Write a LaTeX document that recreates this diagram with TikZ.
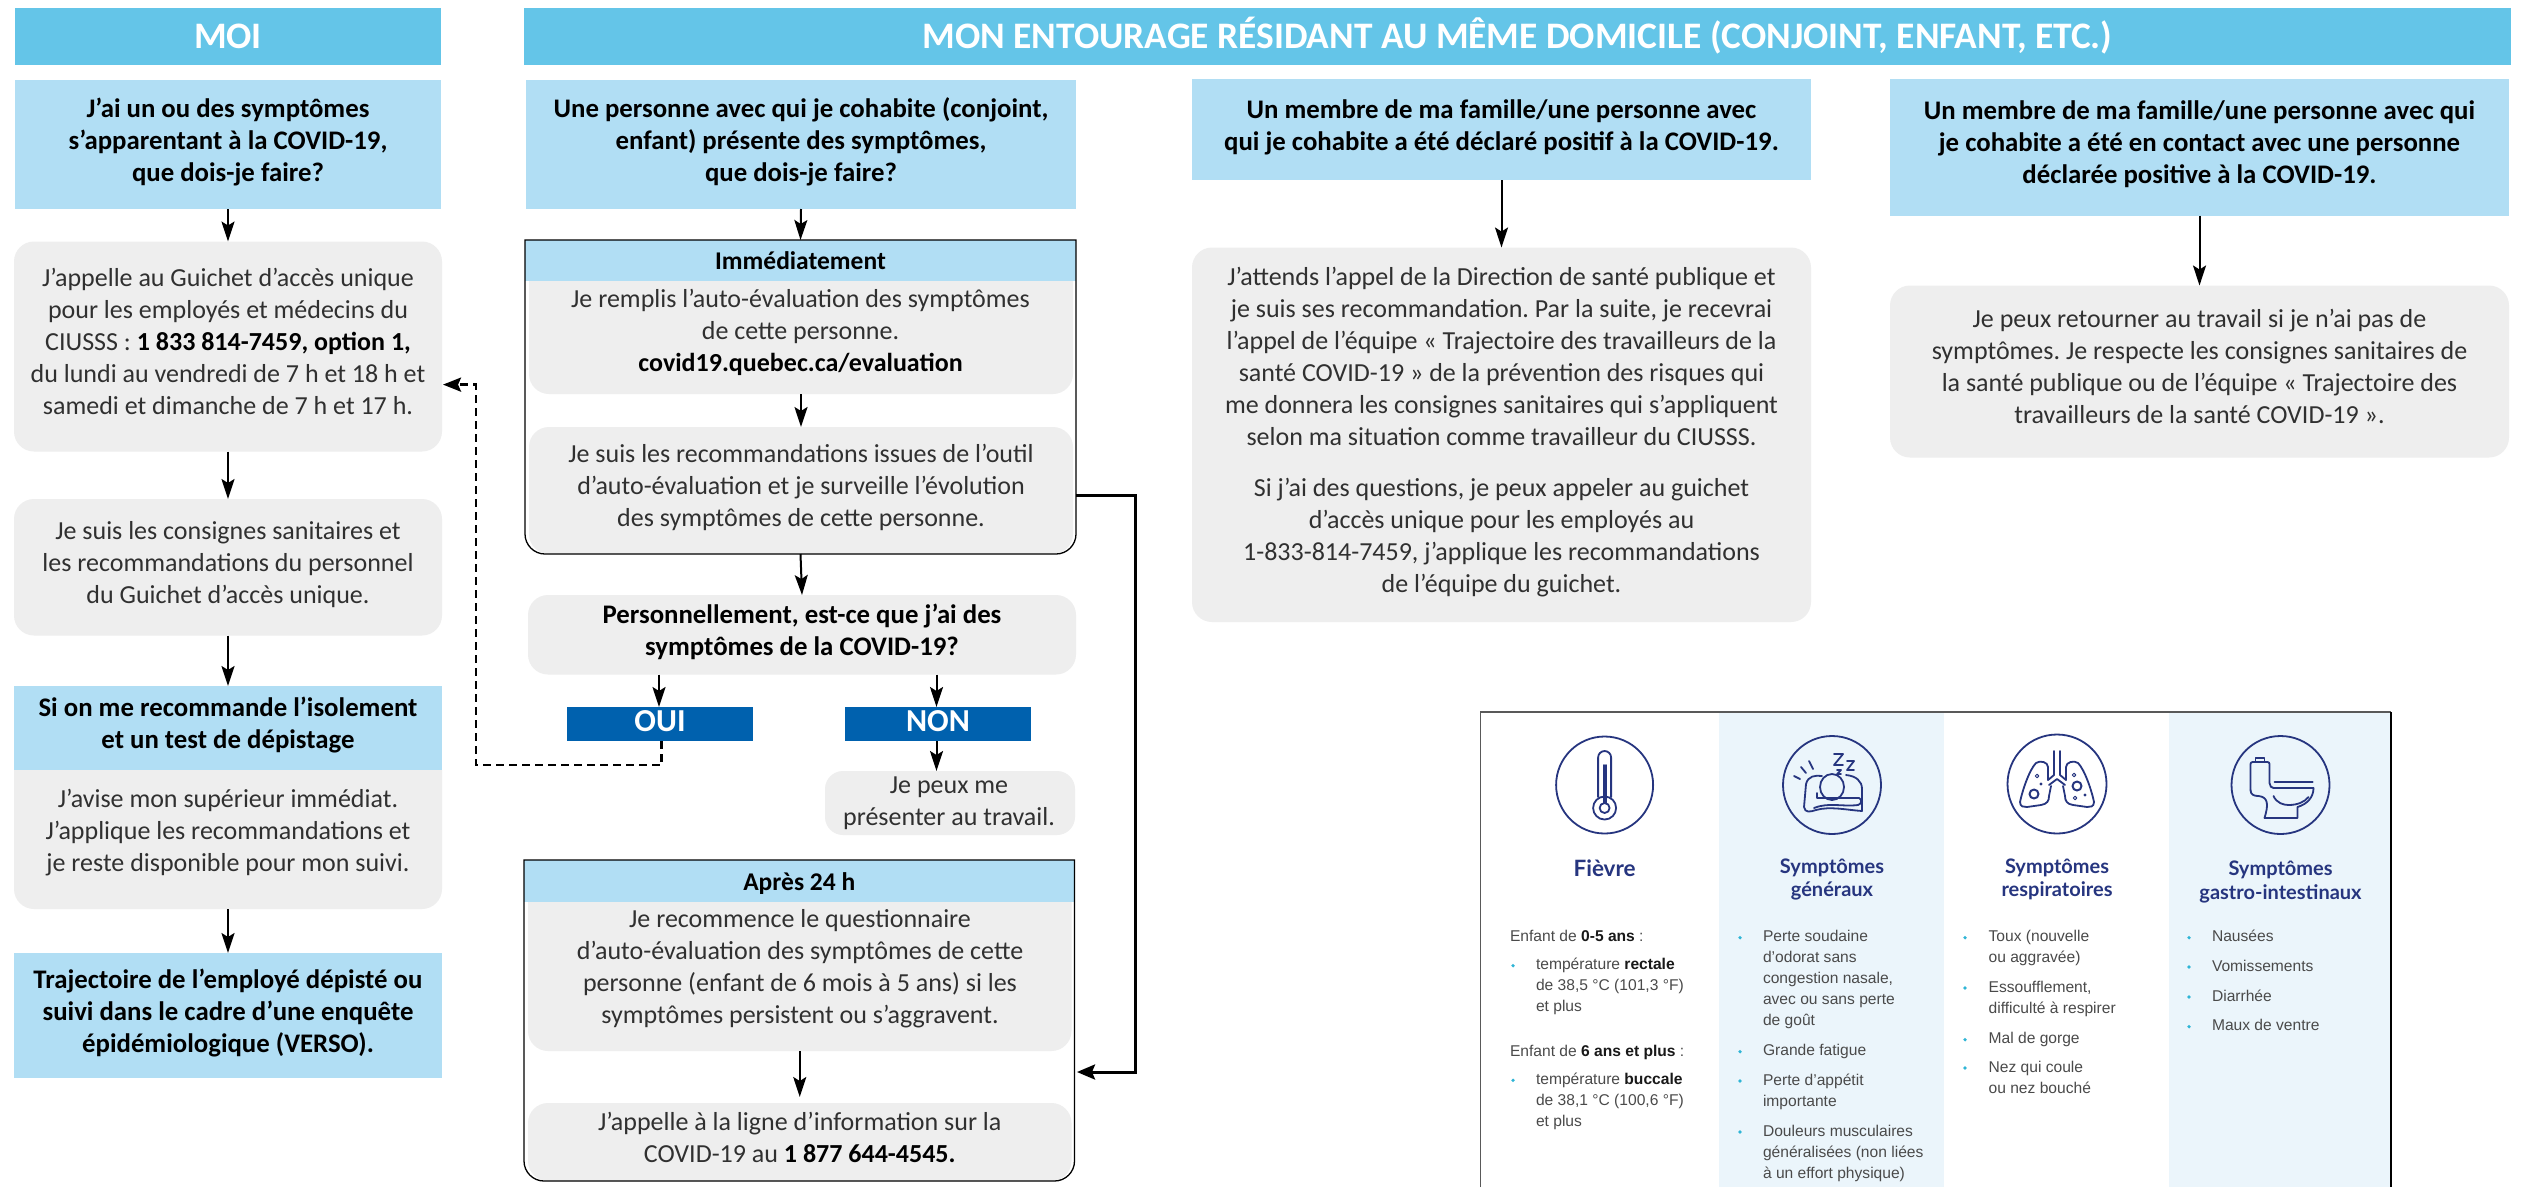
\documentclass[tikz,border=0pt]{standalone}
\usepackage{fontspec}
\setmainfont{Carlito}
\newfontfamily\pnl{Liberation Sans}
\newfontfamily\ttl{Lato}
\usetikzlibrary{arrows.meta}
\AtBeginDocument{\frenchspacing}
\definecolor{headblue}{HTML}{64C5E8}
\definecolor{lightblue}{HTML}{B1DEF4}
\definecolor{greybox}{HTML}{EEEEEE}
\definecolor{darkblue}{HTML}{0061AE}
\definecolor{bodytxt}{HTML}{303030}
\definecolor{panelblue}{HTML}{EBF5FB}
\definecolor{navy}{HTML}{26357F}
\definecolor{pnltxt}{HTML}{4A4A4A}
\definecolor{bulletc}{HTML}{2FB5D6}
\newcommand{\lowstrut}{\rule{0pt}{\dimexpr0.7\baselineskip+6pt\relax}}
\tikzset{
  strutted/.style={align=center,inner sep=0pt,outer sep=0pt,execute at begin node=\lowstrut,execute at end node=\strut},
  headbox/.style={fill=headblue,text=white,font=\fontsize{37.4}{44}\selectfont\bfseries},
  qbox/.style={fill=lightblue,text=black,font=\fontsize{26.8}{32}\selectfont\bfseries},
  gbox/.style={fill=greybox,rounded corners=20pt,text=bodytxt,font=\fontsize{26}{32}\selectfont},
  gboldbox/.style={fill=greybox,rounded corners=20pt,text=black,font=\fontsize{26.8}{32}\selectfont\bfseries},
  choice/.style={fill=darkblue,text=white,font=\fontsize{32}{24}\selectfont\bfseries},
  bodytext/.style={strutted,text=bodytxt,font=\fontsize{26}{32}\selectfont},
  empty area/.style={},
  arr/.style={-{Stealth[length=20pt,width=13pt,inset=4pt]},line width=2pt,black},
  arrthick/.style={-{Stealth[length=18pt,width=15pt,inset=3pt]},line width=3pt,black},
  arrdash/.style={-{Stealth[length=18pt,width=14pt,inset=3pt]},line width=2.8pt,black,dash pattern=on 8pt off 5pt},
  ptext/.style={anchor=north west,inner sep=0pt,outer sep=0pt,align=left,text=pnltxt,font=\fontsize{15.6}{21}\pnl},
  ptitle/.style={align=center,inner sep=0pt,outer sep=0pt,text=navy,font=\fontsize{20}{23.3}\ttl\bfseries},
  icon/.style={draw=navy,line width=1.8pt,line cap=round,line join=round}
}
\newcommand{\bx}[7]{%
  \pgfmathsetmacro\cxx{(#2+#4)/2}\pgfmathsetmacro\cyy{(#3+#5)/2}%
  \pgfmathsetmacro\ww{#4-#2}\pgfmathsetmacro\hh{#5-#3}%
  \node[strutted,#6,minimum width=\ww pt,minimum height=\hh pt] (#1) at (\cxx,\cyy) {#7};}
% box with square top and rounded bottom: {x1}{y1}{x2}{y2}{r}{options}
\newcommand{\bottomround}[6]{%
  \path[#6] (#1,#2) -- (#3,#2) -- ({#3},{#4-#5})
   .. controls ({#3},{#4-0.45*#5}) and ({#3-0.45*#5},{#4}) .. ({#3-#5},{#4})
   -- ({#1+#5},{#4})
   .. controls ({#1+0.45*#5},{#4}) and ({#1},{#4-0.45*#5}) .. ({#1},{#4-#5}) -- cycle;}
\newcommand{\ptx}[4]{\node[ptext] (#1) at (#2,{#3-10.7}) {\strut #4};}
\newcommand{\bul}[2]{\fill[bulletc] (#1,#2) circle[radius=1.8pt];}
\newcommand{\pb}[1]{{\bfseries\color{black!90}#1}}
\begin{document}
\begin{tikzpicture}[x=1pt,y=-1pt]
\useasboundingbox (0,0) rectangle (2524,1187);
\fill[white] (0,0) rectangle (2524,1187);
% ---------- headers
\bx{hmoi}{15}{8}{441}{65}{headbox}{MOI}
\bx{hent}{524}{8}{2511}{65}{headbox}{MON ENTOURAGE RÉSIDANT AU MÊME DOMICILE (CONJOINT, ENFANT, ETC.)}
% ---------- column MOI
\bx{q1}{15}{80}{441}{209}{qbox}{J’ai un ou des symptômes\\s’apparentant à la COVID-19,\\que dois-je faire?}
\bx{g1}{14}{241.5}{442}{451.5}{gbox}{J’appelle au Guichet d’accès unique\\pour les employés et médecins du\\CIUSSS : \textbf{\textcolor{black}{1 833 814-7459, option 1,}}\\du lundi au vendredi de 7 h et 18 h et\\samedi et dimanche de 7 h et 17 h.}
\bx{g2}{14}{499}{442}{635.5}{gbox}{Je suis les consignes sanitaires et\\les recommandations du personnel\\du Guichet d’accès unique.}
\bottomround{14}{770}{442}{909}{20}{fill=greybox}
\bx{b3}{14}{686}{442}{770}{qbox}{Si on me recommande l’isolement\\et un test de dépistage}
\node[bodytext] (t3) at (228,835) {J’avise mon supérieur immédiat.\\J’applique les recommandations et\\je reste disponible pour mon suivi.};
\bx{area3}{14}{686}{442}{909}{empty area}{}
\bx{b4}{14}{953}{442}{1078}{qbox}{Trajectoire de l’employé dépisté ou\\suivi dans le cadre d’une enquête\\épidémiologique (VERSO).}
\draw[arr] (q1.south) -- (g1.north);
\draw[arr] (g1.south) -- (g2.north);
\draw[arr] (g2.south) -- (b3.north);
\draw[arr] (area3.south) -- (b4.north);
% ---------- column 2
\bx{q2}{526}{80}{1076}{209}{qbox}{Une personne avec qui je cohabite (conjoint,\\enfant) présente des symptômes,\\que dois-je faire?}
\bx{fr1}{525}{240}{1076}{554}{empty area}{}
\bottomround{529}{280}{1073}{394}{20}{fill=greybox}
\bx{g21}{529}{280.5}{1073}{394}{empty area}{}
\node[bodytext] (t21) at (800.5,335.5) {Je remplis l’auto-évaluation des symptômes\\de cette personne.\\\textbf{\textcolor{black}{covid19.quebec.ca/evaluation}}};
\bx{g22}{529}{427}{1073}{554}{gbox}{Je suis les recommandations issues de l’outil\\d’auto-évaluation et je surveille l’évolution\\des symptômes de cette personne.}
\bx{h21}{525}{240}{1076}{280.5}{qbox,font=\fontsize{25.5}{30}\selectfont\bfseries}{Immédiatement}
\bottomround{525}{240}{1076}{554}{20}{draw=black,line width=1.3pt}
\draw[arr] (q2.south) -- (fr1.north);
\draw[arr] (g21.south) -- (g22.north);
\bx{qp}{528}{595}{1076}{674.5}{gboldbox}{Personnellement, est-ce que j’ai des\\symptômes de la COVID-19?}
\draw[arr] (fr1.south) -- (qp.north);
\bx{oui}{567}{707}{753}{741}{choice}{OUI}
\bx{non}{845}{707}{1031}{741}{choice}{NON}
\coordinate (ouitop) at (659,674.5);
\coordinate (nontop) at (936.5,674.5);
\draw[arr] (ouitop) -- (oui.north -| ouitop);
\draw[arr] (nontop) -- (non.north -| nontop);
\bx{peux}{825}{771}{1075}{835}{gbox,rounded corners=18pt}{}
\node[bodytext,execute at begin node=\strut] (tpeux) at (949,806) {Je peux me\\présenter au travail.};
\coordinate (peuxtop) at (936.5,771);
\draw[arr] (non.south -| peuxtop) -- (peuxtop);
% dashed loop
\coordinate (dcorner) at (476,765);
\coordinate (dtarget) at (443,384.6);
\draw[arrdash] (oui.south) ++(1.5,0) |- (dcorner) |- (dtarget);
% ---------- frame Après 24 h
\bottomround{528}{902}{1071.5}{1051}{20}{fill=greybox}
\bx{g23}{528}{902}{1071.5}{1051}{empty area}{}
\node[bodytext] (t23) at (800,971.6) {Je recommence le questionnaire\\d’auto-évaluation des symptômes de cette\\personne (enfant de 6 mois à 5 ans) si les\\symptômes persistent ou s’aggravent.};
\bx{g24}{528}{1103}{1071.5}{1181}{gbox}{J’appelle à la ligne d’information sur la\\COVID-19 au \textbf{\textcolor{black}{1 877 644-4545.}}}
\bx{h23}{524}{860}{1074.5}{902}{qbox,font=\fontsize{25.5}{30}\selectfont\bfseries}{Après 24 h}
\bx{fr2}{524}{860}{1074.5}{1181}{empty area}{}
\bottomround{524}{860}{1074.5}{1181}{20}{draw=black,line width=1.3pt}
\draw[arr] (g23.south) -- ++(0,46);
% thick link
\coordinate (c1) at (1076,495);
\coordinate (c2) at (1135,495);
\coordinate (c3) at (1135,1072);
\coordinate (c4) at (1077,1072);
\draw[arrthick,line join=miter] (c1) -- (c2) -- (c3) -- (c4);
% ---------- column 3
\bx{q3}{1192}{79}{1811}{180}{qbox}{Un membre de ma famille/une personne avec\\qui je cohabite a été déclaré positif à la COVID-19.}
\bx{g3}{1192}{247.5}{1811}{622}{gbox}{J’attends l’appel de la Direction de santé publique et\\je suis ses recommandation. Par la suite, je recevrai\\l’appel de l’équipe « Trajectoire des travailleurs de la\\santé COVID-19 » de la prévention des risques qui\\me donnera les consignes sanitaires qui s’appliquent\\selon ma situation comme travailleur du CIUSSS.\\[19pt]Si j’ai des questions, je peux appeler au guichet\\d’accès unique pour les employés au\\1-833-814-7459, j’applique les recommandations\\de l’équipe du guichet.}
\draw[arr] (q3.south) -- (g3.north);
% ---------- column 4
\bx{q4}{1890}{79}{2509}{215.5}{qbox}{Un membre de ma famille/une personne avec qui\\je cohabite a été en contact avec une personne\\déclarée positive à la COVID-19.}
\bx{g4}{1890}{285.5}{2509}{457.5}{gbox}{Je peux retourner au travail si je n’ai pas de\\symptômes. Je respecte les consignes sanitaires de\\la santé publique ou de l’équipe « Trajectoire des\\travailleurs de la santé COVID-19 ».}
\draw[arr] (q4.south) -- (g4.north);
% ---------- symptom panel
\fill[panelblue] (1719,712) rectangle (1944,1187);
\fill[panelblue] (2169,712) rectangle (2391,1187);
\draw[black!65,line width=1.5pt] (1480.7,1187) -- (1480.7,712) -- (2391,712);
\draw[black,line width=1.5pt] (2391,712) -- (2391,1187);
% icon 1 thermometer
\begin{scope}[shift={(1604.6,785)}]
 \draw[icon] (0,0) circle[radius=48.5pt];
 \draw[icon,rounded corners=6.5pt] (-6.5,12) -- (-6.5,-34) -- (6.5,-34) -- (6.5,12);
 \draw[icon] (0,23) circle[radius=11.5pt];
 \draw[icon] (0,23) circle[radius=5pt];
 \draw[icon] (-1,-20) -- (-1,18);
 \draw[icon] (1.5,-20) -- (1.5,18);
\end{scope}
% icon 2 sleep
\begin{scope}[shift={(1832,785)}]
 \draw[icon] (0,0) circle[radius=49pt];
 \draw[icon] (0,2) ellipse[x radius=12pt,y radius=13pt];
 \draw[icon] (-10,-9) .. controls (-17,-10) and (-24,-9) .. (-26,-1) -- (-28,22) .. controls (-27,28) and (-22,27) .. (-16,25) .. controls (-2,21) and (15,25) .. (30,26) -- (30,4) .. controls (30,-4) and (24,-9) .. (14,-10);
 \draw[icon] (-15,8) -- (-15,13) -- (27,13) .. controls (30,14) and (30,19) .. (26,20) .. controls (10,22) and (-3,17) .. (-18,23);
 \draw[icon] (-38,-9) -- (-32,-6);
 \draw[icon] (-31,-18) -- (-26,-12);
 \draw[icon] (-23,-24) -- (-19,-16);
 \draw[icon] (2,-31) -- (11,-31) -- (2,-20) -- (11,-20);
 \draw[icon] (15,-24) -- (22,-24) -- (15,-15) -- (22,-15);
 \draw[icon] (5,-15) -- (9,-15) -- (5,-11) -- (9,-11);
\end{scope}
% icon 3 lungs
\begin{scope}[shift={(2057,784)}]
 \draw[icon] (0,0) circle[radius=49.5pt];
 \draw[icon] (-9,-4) -- (-9,-17) .. controls (-9,-22) and (-17,-24) .. (-21,-21) .. controls (-28,-14) and (-35,8) .. (-37,18) .. controls (-37,23) and (-33,23) .. (-30,23) -- (-16,21) .. controls (-10,20) and (-8,17) .. (-8,12) -- (-6,2);
 \draw[icon] (9,-4) -- (9,-17) .. controls (9,-22) and (17,-24) .. (21,-21) .. controls (28,-14) and (35,8) .. (37,18) .. controls (37,23) and (33,23) .. (30,23) -- (16,21) .. controls (10,20) and (8,17) .. (8,12) -- (6,2);
 \draw[icon] (-3,-33) -- (-3,-9) -- (-9,-4);
 \draw[icon] (3,-33) -- (3,-9) -- (9,-4);
 \draw[icon] (-8,1) -- (0,-5) -- (8,1);
 \draw[icon,line width=2pt] (-23,10) circle[radius=4.5pt];
 \draw[icon,line width=2pt] (20,2) circle[radius=4.5pt];
 \draw[icon,line width=1pt] (-20,-8) circle[radius=1.8pt];
 \draw[icon,line width=1pt] (17,-9) circle[radius=1.8pt];
 \draw[icon,line width=1pt] (18,14) circle[radius=1.8pt];
 \fill[navy] (-16,0) circle[radius=1.6pt];
 \fill[navy] (28,11) circle[radius=1.6pt];
\end{scope}
% icon 4 toilet
\begin{scope}[shift={(2280.5,785)}]
 \draw[icon] (0,0) circle[radius=49pt];
 \draw[icon,rounded corners=2pt] (-30,5) -- (-30,-23) -- (-11,-23) -- (-11,-4) .. controls (-11,1) and (-9,3) .. (-5,3) -- (33,3);
 \draw[icon] (-25,-23) -- (-25,-27) -- (-16,-27) -- (-16,-23);
 \draw[icon] (-30,5) .. controls (-30,10) and (-26,11) .. (-22,11) .. controls (-12,12) and (-12,20) .. (-16,33) -- (17,33) -- (17,22) .. controls (27,19) and (33,12) .. (33,3);
 \draw[icon,line width=2pt] (-6,-3) -- (32,-3);
 \draw[icon] (-7,11) .. controls (-4,18) and (3,20) .. (8,20) .. controls (17,20) and (24,17) .. (28,12);
\end{scope}
% titles
\node[ptitle,font=\fontsize{22.5}{26}\ttl\bfseries] (tfievre) at (1604.6,868) {Fièvre};
\node[ptitle] (tgen) at (1832,879.5) {Symptômes\\généraux};
\node[ptitle] (tresp) at (2057,879.5) {Symptômes\\respiratoires};
\node[ptitle] (tgas) at (2280.5,882) {Symptômes\\gastro-intestinaux};
% column: fever
\ptx{fa}{1510}{937.7}{Enfant de \pb{0-5 ans} :}
\bul{1513}{965.7}
\ptx{fb}{1536}{965.7}{température \pb{rectale}\\de 38,5 °C (101,3 °F)\\et plus}
\ptx{fc}{1510}{1052.3}{Enfant de \pb{6 ans et plus} :}
\bul{1513}{1080.3}
\ptx{fd}{1536}{1080.3}{température \pb{buccale}\\de 38,1 °C (100,6 °F)\\et plus}
% column: general
\bul{1740}{937.7}
\ptx{ga}{1763}{937.7}{Perte soudaine\\d’odorat sans\\congestion nasale,\\avec ou sans perte\\de goût}
\bul{1740}{1051.7}
\ptx{gb}{1763}{1051.7}{Grande fatigue}
\bul{1740}{1081}
\ptx{gc}{1763}{1081}{Perte d’appétit\\importante}
\bul{1740}{1132}
\ptx{gd}{1763}{1132}{Douleurs musculaires\\généralisées (non liées\\à un effort physique)}
% column: respiratory
\bul{1965}{937.7}
\ptx{ra}{1988.6}{937.7}{Toux (nouvelle\\ou aggravée)}
\bul{1965}{988}
\ptx{rb}{1988.6}{988}{Essoufflement,\\difficulté à respirer}
\bul{1965}{1039.7}
\ptx{rc}{1988.6}{1039.7}{Mal de gorge}
\bul{1965}{1068}
\ptx{rd}{1988.6}{1068}{Nez qui coule\\ou nez bouché}
% column: gastro
\bul{2189}{937.7}
\ptx{ia}{2212}{937.7}{Nausées}
\bul{2189}{967}
\ptx{ib}{2212}{967}{Vomissements}
\bul{2189}{997}
\ptx{ic}{2212}{997}{Diarrhée}
\bul{2189}{1026.7}
\ptx{id}{2212}{1026.7}{Maux de ventre}
\end{tikzpicture}
\end{document}
